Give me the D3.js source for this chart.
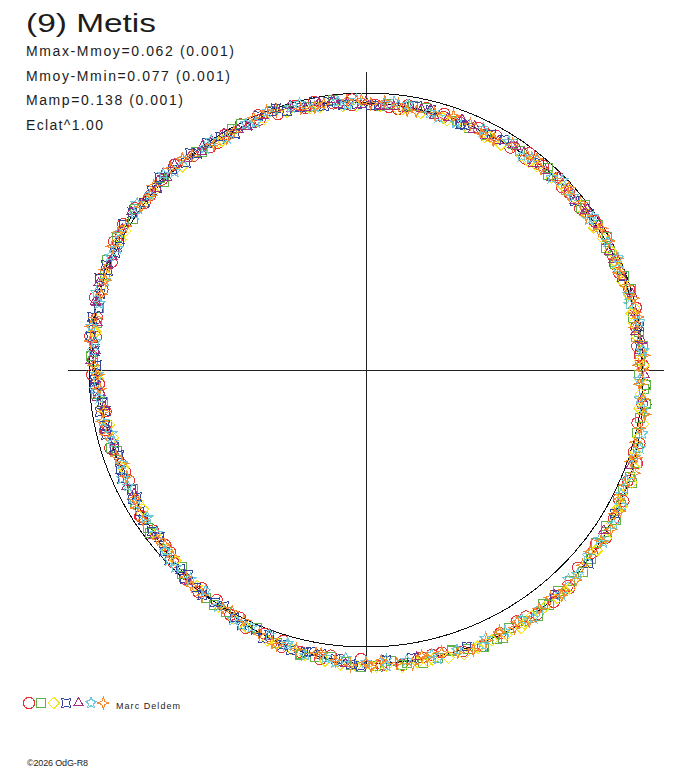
<!DOCTYPE html>
<html>
<head>
<meta charset="utf-8">
<script src="https://cdn.jsdelivr.net/npm/d3@7"></script>
<style>
  body { margin: 0; background: #fff; }
  svg { display: block; }
  text { font-family: "Liberation Sans", Arial, sans-serif; fill: #1c1c1c; }
</style>
</head>
<body>
<svg width="688" height="768"></svg>
<script>
// header texts
var title = "(9) Metis";
var infoLines = ["Mmax-Mmoy=0.062 (0.001)", "Mmoy-Mmin=0.077 (0.001)", "Mamp=0.138 (0.001)", "Eclat^1.00"];
var author = "Marc Deldem";
var copyright = "\u00a92026 OdG-R8";

// mean light curve: rotation phase (deg) and magnitude relative to mean
var meanPhase = [0,10,20,30,40,50,60,70,80,90,100,110,120,130,140,150,160,170,
                 180,190,200,210,220,230,240,250,260,270,280,290,300,310,320,330,340,350];
var meanMag = [0.040,0.044,0.044,0.046,0.032,0.024,0.020,0.012,0.010,0.004,-0.010,-0.027,-0.042,-0.057,-0.070,-0.076,-0.072,-0.066,
               -0.061,-0.050,-0.030,-0.006,0.012,0.032,0.050,0.052,0.044,0.020,0.004,-0.008,-0.012,-0.014,0.002,0.016,0.012,0.026];

// observation sessions, first night: [phase deg, relative magnitude]
var s1 = [[2,0.046],[9,0.036],[17,0.050],[25,0.040],[33,0.048],[41,0.026],[49,0.030],[57,0.016],[65,0.020],[73,0.006],
  [81,0.014],[89,0.000],[97,-0.004],[105,-0.024],[113,-0.028],[121,-0.046],[129,-0.052],[137,-0.070],[145,-0.080],[153,-0.070],
  [161,-0.078],[169,-0.060],[177,-0.066],[185,-0.054],[193,-0.048],[201,-0.022],[209,-0.012],[217,0.016],[225,0.018],[233,0.042],
  [241,0.044],[249,0.058],[257,0.040],[265,0.034],[273,0.010],[281,0.012],[289,-0.014],[297,-0.004],[305,-0.020],[313,-0.008],
  [321,0.008],[329,0.010],[337,0.020],[345,0.014],[353,0.034]];
var s2 = [[5,0.038],[20,0.050],[35,0.036],[48,0.030],[58,0.014],[64,0.022],[70,0.008],[76,0.016],[82,0.004],[88,0.010],
  [94,-0.006],[100,-0.004],[106,-0.022],[112,-0.030],[118,-0.044],[124,-0.046],[130,-0.064],[136,-0.062],[142,-0.078],[148,-0.072],
  [154,-0.082],[160,-0.076],[166,-0.074],[172,-0.070],[178,-0.072],[184,-0.060],[190,-0.056],[198,-0.038],[210,-0.010],[222,0.008],
  [234,0.030],[246,0.046],[258,0.048],[272,0.014],[290,-0.004],[305,-0.018],[322,0.000],[340,0.006]];
var s3 = [[3,0.052],[12,0.058],[22,0.054],[31,0.058],[40,0.044],[47,0.030],[54,0.028],[61,0.024],[67,0.018],[74,0.014],
  [80,0.020],[86,0.004],[92,0.010],[98,-0.008],[104,-0.014],[110,-0.034],[116,-0.030],[122,-0.050],[128,-0.058],[134,-0.070],
  [140,-0.078],[146,-0.074],[152,-0.086],[158,-0.080],[164,-0.084],[170,-0.076],[176,-0.074],[182,-0.072],[188,-0.064],[195,-0.046],
  [205,-0.026],[218,0.006],[232,0.040],[248,0.060],[262,0.040],[278,0.008],[300,-0.004],[318,0.012],[336,0.022],[350,0.040]];
var s4 = [[8,0.046],[28,0.040],[55,0.018],[85,0.008],[120,-0.040],[160,-0.066],[186,-0.052],[192,-0.044],[197,-0.040],[203,-0.020],
  [208,-0.014],[213,0.000],[218,0.004],[223,0.020],[228,0.022],[233,0.036],[238,0.040],[243,0.056],[248,0.048],[253,0.056],
  [258,0.040],[263,0.044],[268,0.022],[274,0.020],[280,0.000],[286,0.002],[292,-0.014],[298,-0.008],[304,-0.018],[310,-0.010],
  [316,-0.006],[322,0.010],[328,0.008],[334,0.020],[340,0.008],[346,0.026],[352,0.024],[358,0.044]];
var s5 = [[0,0.036],[6,0.048],[12,0.040],[18,0.048],[24,0.040],[30,0.050],[36,0.032],[42,0.034],[48,0.020],[54,0.026],
  [62,0.012],[70,0.018],[78,0.006],[86,0.012],[96,-0.002],[140,-0.064],[200,-0.026],[232,0.030],[252,0.048],[262,0.050],
  [268,0.026],[276,0.016],[284,-0.002],[292,-0.004],[300,-0.018],[308,-0.008],[314,-0.020],[320,0.006],[326,0.004],[332,0.018],
  [338,0.010],[344,0.022],[350,0.022],[356,0.036]];
var s6 = [[4,0.040],[14,0.048],[26,0.044],[38,0.030],[50,0.028],[62,0.014],[74,0.016],[86,0.002],[98,-0.012],[108,-0.020],
  [118,-0.046],[126,-0.044],[134,-0.066],[144,-0.070],[152,-0.072],[162,-0.066],[172,-0.062],[180,-0.058],[188,-0.052],[196,-0.036],
  [204,-0.018],[212,-0.008],[220,0.016],[228,0.026],[236,0.044],[244,0.048],[254,0.054],[264,0.036],[274,0.012],[284,0.008],
  [294,-0.012],[304,-0.008],[314,-0.018],[324,0.010],[334,0.012],[344,0.016],[354,0.028]];
var s7 = [[1,0.042],[7,0.038],[15,0.046],[23,0.040],[29,0.050],[37,0.034],[45,0.030],[52,0.020],[59,0.022],[66,0.010],
  [72,0.016],[78,0.008],[84,0.012],[90,0.002],[96,-0.006],[102,-0.010],[108,-0.026],[114,-0.024],[120,-0.040],[126,-0.052],
  [132,-0.056],[138,-0.072],[144,-0.068],[150,-0.078],[156,-0.072],[162,-0.076],[168,-0.064],[174,-0.068],[180,-0.060],[186,-0.056],
  [194,-0.042],[202,-0.030],[211,-0.002],[221,0.010],[231,0.034],[241,0.046],[251,0.050],[261,0.046],[271,0.018],[281,0.006],
  [291,-0.010],[301,-0.010],[311,-0.016],[321,0.004],[331,0.018],[341,0.010],[351,0.030]];

// second night
var t1 = [[5,0.052],[13,0.032],[21,0.050],[29,0.036],[37,0.050],[45,0.020],[53,0.035],[61,0.009],[69,0.023],[77,-0.001],
  [85,0.019],[93,-0.010],[101,0.002],[109,-0.038],[117,-0.026],[125,-0.060],[133,-0.049],[141,-0.081],[149,-0.061],[157,-0.087],
  [165,-0.059],[173,-0.076],[181,-0.046],[189,-0.061],[197,-0.024],[205,-0.030],[213,0.011],[221,0.002],[229,0.042],[237,0.035],
  [245,0.063],[253,0.038],[261,0.054],[269,0.012],[277,0.019],[285,-0.014],[293,0.003],[301,-0.024],[309,-0.002],[317,-0.013],
  [325,0.021],[333,0.005],[341,0.025],[349,0.015],[357,0.048]];
var t2 = [[10,0.036],[27,0.055],[42,0.020],[53,0.033],[61,0.007],[67,0.026],[73,-0.001],[79,0.022],[85,-0.003],[91,0.015],
  [97,-0.018],[103,-0.003],[109,-0.038],[115,-0.025],[121,-0.056],[127,-0.041],[133,-0.075],[139,-0.059],[145,-0.087],[151,-0.066],
  [157,-0.089],[163,-0.062],[169,-0.082],[175,-0.057],[181,-0.076],[187,-0.045],[193,-0.058],[203,-0.013],[215,-0.007],[228,0.038],
  [240,0.040],[252,0.061],[265,0.024],[280,0.014],[298,-0.021],[313,0.003],[331,0.006],[348,0.033]];
var t3 = [[7,0.059],[17,0.054],[27,0.063],[36,0.050],[44,0.039],[51,0.026],[58,0.031],[64,0.019],[71,0.022],[77,0.005],
  [83,0.016],[89,-0.003],[95,0.005],[101,-0.022],[107,-0.018],[113,-0.044],[119,-0.039],[125,-0.062],[131,-0.064],[137,-0.082],
  [143,-0.076],[149,-0.091],[155,-0.080],[161,-0.089],[167,-0.076],[173,-0.084],[179,-0.071],[185,-0.071],[192,-0.056],[200,-0.042],
  [212,-0.008],[225,0.030],[240,0.056],[255,0.062],[270,0.030],[290,0.002],[310,0.000],[327,0.022],[343,0.030],[355,0.049]];
var t4 = [[2,0.049],[14,0.036],[22,0.052],[40,0.026],[70,0.018],[140,-0.062],[176,-0.053],[183,-0.067],[189,-0.041],[195,-0.050],
  [200,-0.020],[206,-0.026],[211,0.006],[216,-0.005],[221,0.024],[226,0.014],[231,0.044],[236,0.033],[241,0.060],[246,0.041],
  [251,0.063],[256,0.037],[261,0.054],[266,0.020],[271,0.030],[277,-0.001],[283,0.010],[289,-0.019],[295,0.000],[301,-0.024],
  [307,-0.003],[313,-0.021],[319,0.010],[325,-0.001],[331,0.028],[337,0.003],[343,0.026],[349,0.015],[355,0.043]];
var t5 = [[3,0.051],[9,0.034],[15,0.056],[21,0.034],[27,0.055],[33,0.032],[39,0.045],[45,0.018],[51,0.034],[58,0.011],
  [66,0.025],[74,0.001],[82,0.019],[91,-0.007],[110,-0.017],[170,-0.056],[220,0.002],[242,0.058],[257,0.037],[265,0.044],
  [272,0.007],[280,0.016],[288,-0.016],[296,0.000],[304,-0.023],[311,0.000],[317,-0.015],[323,0.016],[329,0.005],[335,0.026],
  [341,0.003],[347,0.033],[353,0.020],[359,0.049]];
var t6 = [[9,0.034],[20,0.056],[32,0.031],[44,0.039],[56,0.012],[68,0.024],[80,-0.002],[92,0.012],[103,-0.025],[113,-0.022],
  [122,-0.057],[130,-0.047],[139,-0.079],[148,-0.065],[157,-0.083],[167,-0.058],[176,-0.074],[184,-0.046],[192,-0.056],[200,-0.020],
  [208,-0.023],[216,0.015],[224,0.010],[232,0.046],[240,0.040],[249,0.062],[259,0.035],[269,0.032],[279,-0.004],[289,0.003],
  [299,-0.022],[309,-0.004],[319,-0.010],[329,0.025],[339,0.002],[349,0.035],[358,0.028]];
var t7 = [[4,0.032],[11,0.056],[19,0.034],[26,0.055],[33,0.032],[41,0.041],[48,0.016],[55,0.032],[62,0.008],[69,0.023],
  [75,-0.001],[81,0.019],[87,-0.006],[93,0.012],[99,-0.019],[105,-0.008],[111,-0.041],[117,-0.028],[123,-0.059],[129,-0.046],
  [135,-0.076],[141,-0.061],[147,-0.086],[153,-0.065],[159,-0.084],[165,-0.059],[171,-0.078],[177,-0.052],[183,-0.070],[190,-0.040],
  [198,-0.046],[206,-0.006],[216,-0.005],[226,0.034],[236,0.033],[246,0.061],[256,0.037],[266,0.040],[276,0.000],[286,0.007],
  [296,-0.020],[306,-0.003],[316,-0.014],[326,0.020],[336,0.004],[346,0.030],[356,0.025]];

// third night
var u1 = [[7,0.057],[17,0.036],[27,0.049],[37,0.022],[47,0.036],[57,0.017],[67,0.026],[77,0.001],[87,0.012],[97,-0.018],
  [107,-0.012],[117,-0.046],[127,-0.043],[137,-0.080],[147,-0.064],[157,-0.085],[167,-0.058],[177,-0.072],[187,-0.041],[197,-0.048],
  [207,-0.003],[217,-0.005],[227,0.038],[237,0.031],[247,0.063],[257,0.036],[267,0.039],[277,-0.003],[287,0.006],[297,-0.023],
  [307,-0.001],[317,-0.015],[327,0.024],[337,0.001],[347,0.032],[357,0.024]];
var u2 = [[3,0.051],[13,0.034],[23,0.057],[33,0.030],[43,0.040],[53,0.013],[63,0.030],[73,0.001],[83,0.020],[93,-0.012],
  [103,-0.005],[113,-0.044],[123,-0.037],[133,-0.075],[143,-0.062],[153,-0.089],[163,-0.060],[173,-0.078],[183,-0.068],[193,-0.054],
  [203,-0.013],[213,-0.011],[223,0.028],[233,0.027],[243,0.061],[253,0.040],[263,0.047],[273,0.005],[283,0.010],[293,-0.019],
  [303,-0.003],[313,-0.019],[323,0.016],[333,0.005],[343,0.026],[353,0.020]];
var u3 = [[8,0.055],[18,0.060],[28,0.052],[38,0.051],[48,0.030],[58,0.033],[68,0.020],[78,0.022],[88,0.011],[98,0.003],
  [108,-0.020],[118,-0.049],[128,-0.062],[138,-0.079],[148,-0.083],[158,-0.087],[168,-0.079],[178,-0.076],[188,-0.064],[198,-0.040],
  [208,-0.019],[218,0.012],[228,0.036],[238,0.058],[248,0.064],[258,0.058],[268,0.037],[278,0.017],[288,0.002],[298,-0.003],
  [308,-0.004],[318,0.010],[328,0.025],[338,0.025],[348,0.037],[358,0.051]];
var u4 = [[1,0.050],[11,0.032],[21,0.056],[31,0.033],[51,0.034],[81,0.001],[131,-0.068],[171,-0.055],[181,-0.072],[191,-0.038],
  [201,-0.040],[211,0.006],[221,0.002],[231,0.046],[241,0.040],[251,0.064],[261,0.030],[271,0.030],[281,-0.007],[291,0.002],
  [301,-0.024],[311,-0.002],[321,-0.009],[331,0.026],[341,0.001],[351,0.039]];
var u5 = [[4,0.052],[14,0.034],[24,0.055],[34,0.030],[44,0.039],[54,0.013],[64,0.027],[84,-0.002],[124,-0.038],[184,-0.067],
  [244,0.041],[254,0.059],[264,0.024],[274,0.024],[284,-0.011],[294,0.000],[304,-0.023],[314,0.002],[324,-0.002],[334,0.024],
  [344,0.007],[354,0.042]];
var u6 = [[6,0.030],[16,0.056],[26,0.035],[36,0.050],[46,0.017],[56,0.032],[66,0.005],[76,0.021],[86,-0.004],[96,0.006],
  [106,-0.030],[116,-0.026],[126,-0.061],[136,-0.055],[146,-0.084],[156,-0.064],[166,-0.078],[176,-0.053],[186,-0.064],[196,-0.028],
  [206,-0.026],[216,0.015],[226,0.014],[236,0.053],[246,0.041],[256,0.057],[266,0.020],[276,0.020],[286,-0.013],[296,0.000],
  [306,-0.023],[316,0.006],[326,0.000],[336,0.024],[346,0.010],[356,0.044]];
var u7 = [[9,0.056],[19,0.032],[29,0.058],[39,0.021],[49,0.037],[59,0.008],[69,0.025],[79,-0.002],[89,0.017],[99,-0.021],
  [109,-0.013],[119,-0.053],[129,-0.044],[139,-0.081],[149,-0.063],[159,-0.086],[169,-0.055],[179,-0.075],[189,-0.039],[199,-0.044],
  [209,0.004],[219,-0.002],[229,0.042],[239,0.036],[249,0.064],[259,0.033],[269,0.034],[279,-0.006],[289,0.005],[299,-0.024],
  [309,-0.002],[319,-0.012],[329,0.027],[339,0.000],[349,0.037],[359,0.027]];

var sessions = [s1.concat(t1, u1), s2.concat(t2, u2), s3.concat(t3, u3), s4.concat(t4, u4),
                s5.concat(t5, u5), s6.concat(t6, u6), s7.concat(t7, u7)];
var colors = ["#e83038", "#62b04a", "#f2e41e", "#34459c", "#a3307e", "#6ec8da", "#f48a30"];

var svg = d3.select("svg");
var cx = 366, cy = 370;

// phase -> angle (clockwise from top), brightness -> radius
var angle = d3.scaleLinear().domain([0, 360]).range([0, 2 * Math.PI]);
var radius = d3.scaleLinear().domain([0, 1]).range([0, 277]);
function flux(m) { return Math.pow(10, -0.4 * m); }  // Eclat^1.00

// custom symbols
function polygon(n, rot) {
  return { draw: function(ctx, size) {
    var R = Math.sqrt(size);
    for (var i = 0; i < n; i++) {
      var a = rot + i * 2 * Math.PI / n;
      if (i == 0) ctx.moveTo(R * Math.sin(a), -R * Math.cos(a));
      else ctx.lineTo(R * Math.sin(a), -R * Math.cos(a));
    }
    ctx.closePath();
  }};
}
function star(n, inner, rot) {
  return { draw: function(ctx, size) {
    var R = Math.sqrt(size);
    for (var i = 0; i < 2 * n; i++) {
      var a = rot + i * Math.PI / n;
      var r = i % 2 ? R * inner : R;
      if (i == 0) ctx.moveTo(r * Math.sin(a), -r * Math.cos(a));
      else ctx.lineTo(r * Math.sin(a), -r * Math.cos(a));
    }
    ctx.closePath();
  }};
}
var shapes = [
  d3.symbol().type(d3.symbolCircle).size(Math.PI * 5.6 * 5.6),
  d3.symbol().type(d3.symbolSquare).size(81),
  d3.symbol().type(polygon(4, 0)).size(5.6 * 5.6),
  d3.symbol().type(star(4, 0.55, Math.PI / 4)).size(6.3 * 6.3),
  d3.symbol().type(polygon(3, 0)).size(5.4 * 5.4),
  d3.symbol().type(star(5, 0.45, 0)).size(5.9 * 5.9),
  d3.symbol().type(star(4, 0.35, 0)).size(6 * 6)
];

var g = svg.append("g").attr("transform", "translate(" + cx + "," + cy + ")")
  .attr("shape-rendering", "crispEdges");

// axes
var axisR = radius(1.076);
g.append("line").attr("x1", -axisR).attr("x2", axisR).attr("y1", 0.5).attr("y2", 0.5)
  .attr("stroke", "#222").attr("stroke-width", 1);
g.append("line").attr("x1", 0.5).attr("x2", 0.5).attr("y1", -axisR).attr("y2", axisR)
  .attr("stroke", "#222").attr("stroke-width", 1);

// mean magnitude circle
g.append("circle").attr("r", radius(1)).attr("fill", "none").attr("stroke", "#111").attr("stroke-width", 1);

// mean light curve
var meanData = meanPhase.map(function(p, i) { return [p, meanMag[i]]; });
var line = d3.lineRadial()
  .angle(function(d) { return angle(d[0]); })
  .radius(function(d) { return radius(flux(d[1])); })
  .curve(d3.curveCatmullRomClosed);
g.append("path").attr("d", line(meanData)).attr("fill", "none").attr("stroke", "#111").attr("stroke-width", 1);

// observations
sessions.forEach(function(s, k) {
  g.append("g").selectAll("path").data(s).enter().append("path")
    .attr("transform", function(d) {
      var p = d3.pointRadial(angle(d[0]), radius(flux(d[1])));
      return "translate(" + p[0].toFixed(1) + "," + p[1].toFixed(1) + ")";
    })
    .attr("d", shapes[k]())
    .attr("fill", "none")
    .attr("stroke", colors[k])
    .attr("stroke-width", 1);
});

// header
svg.append("text").attr("x", 26).attr("y", 32).attr("font-size", 25)
  .attr("textLength", 130).attr("lengthAdjust", "spacingAndGlyphs").text(title);
var widths = [208, 204, 157, 77];
infoLines.forEach(function(t, i) {
  svg.append("text").attr("x", 26).attr("y", 56 + i * 24.7).attr("font-size", 14)
    .attr("textLength", widths[i]).attr("lengthAdjust", "spacing").text(t);
});

// legend
var legend = svg.append("g").attr("transform", "translate(29,703)").attr("shape-rendering", "crispEdges");
colors.forEach(function(c, k) {
  legend.append("path").attr("transform", "translate(" + (k * 12.4) + ",0)")
    .attr("d", shapes[k]()).attr("fill", "none").attr("stroke", c).attr("stroke-width", 1);
});
svg.append("text").attr("x", 116).attr("y", 709).attr("font-size", 9)
  .attr("textLength", 64).attr("lengthAdjust", "spacing").text(author);
svg.append("text").attr("x", 27).attr("y", 766).attr("font-size", 9)
  .attr("textLength", 61).attr("lengthAdjust", "spacing").text(copyright);
</script>
</body>
</html>
